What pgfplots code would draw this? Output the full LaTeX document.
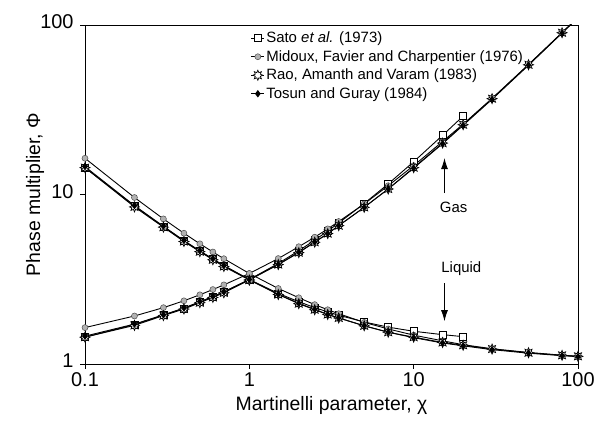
\documentclass[border=0pt]{standalone}
\usepackage{pgfplots}
\pgfplotsset{compat=1.18}
\usepackage{pgfplotstable}
\usepackage{fontspec}
\setmainfont{Liberation Sans}
\usetikzlibrary{plotmarks,arrows.meta}

% eight-pointed star, white inside
\pgfdeclareplotmark{sun}{%
  \pgfpathmoveto{\pgfpointpolar{90}{\pgfplotmarksize}}%
  \pgfpathlineto{\pgfpointpolar{112.5}{0.55\pgfplotmarksize}}%
  \pgfpathlineto{\pgfpointpolar{135}{\pgfplotmarksize}}%
  \pgfpathlineto{\pgfpointpolar{157.5}{0.55\pgfplotmarksize}}%
  \pgfpathlineto{\pgfpointpolar{180}{\pgfplotmarksize}}%
  \pgfpathlineto{\pgfpointpolar{202.5}{0.55\pgfplotmarksize}}%
  \pgfpathlineto{\pgfpointpolar{225}{\pgfplotmarksize}}%
  \pgfpathlineto{\pgfpointpolar{247.5}{0.55\pgfplotmarksize}}%
  \pgfpathlineto{\pgfpointpolar{270}{\pgfplotmarksize}}%
  \pgfpathlineto{\pgfpointpolar{292.5}{0.55\pgfplotmarksize}}%
  \pgfpathlineto{\pgfpointpolar{315}{\pgfplotmarksize}}%
  \pgfpathlineto{\pgfpointpolar{337.5}{0.55\pgfplotmarksize}}%
  \pgfpathlineto{\pgfpointpolar{0}{\pgfplotmarksize}}%
  \pgfpathlineto{\pgfpointpolar{22.5}{0.55\pgfplotmarksize}}%
  \pgfpathlineto{\pgfpointpolar{45}{\pgfplotmarksize}}%
  \pgfpathlineto{\pgfpointpolar{67.5}{0.55\pgfplotmarksize}}%
  \pgfpathclose
  \pgfusepathqfillstroke
}

% X, liquid and gas multipliers read off the reference
\pgfplotstableread{
X    L      G
0.1  14.4   1.44
0.2  8.57   1.71
0.3  6.45   1.94
0.4  5.33   2.13
0.5  4.63   2.32
0.6  4.16   2.50
0.7  3.81   2.67
1    3.15   3.15
1.5  2.61   3.92
2    2.33   4.66
2.5  2.15   5.38
3    2.03   6.09
3.5  1.94   6.79
5    1.77   8.85
7    1.65   11.55
10   1.56   15.6
15   1.49   22.35
20   1.45   29.0
}\sato

\pgfplotstableread{
X    L      G
0.1  16.36  1.64
0.2  9.60   1.92
0.3  7.18   2.15
0.4  5.91   2.36
0.5  5.12   2.56
0.6  4.58   2.75
0.7  4.18   2.93
1    3.42   3.42
1.5  2.79   4.19
2    2.46   4.92
2.5  2.24   5.60
3    2.09   6.27
3.5  1.98   6.93
5    1.76   8.80
7    1.61   11.27
10   1.48   14.8
15   1.37   20.55
20   1.30   26.0
30   1.23   36.9
50   1.17   58.5
80   1.127  90.2
100  1.11   111
}\midoux

\pgfplotstableread{
X    L      G
0.1  14.4   1.44
0.2  8.45   1.69
0.3  6.42   1.93
0.4  5.28   2.11
0.5  4.60   2.30
0.6  4.12   2.47
0.7  3.76   2.63
1    3.13   3.13
1.5  2.57   3.86
2    2.27   4.54
2.5  2.09   5.23
3    1.96   5.88
3.5  1.87   6.55
5    1.68   8.40
7    1.54   10.78
10   1.44   14.4
15   1.34   20.1
20   1.29   25.8
30   1.225  36.75
50   1.165  58.25
80   1.125  90.0
100  1.11   111
}\rao

\pgfplotstableread{
X    L      G
0.1  14.6   1.46
0.2  8.60   1.72
0.3  6.50   1.95
0.4  5.35   2.14
0.5  4.65   2.33
0.6  4.17   2.50
0.7  3.80   2.66
1    3.15   3.15
1.5  2.58   3.87
2    2.28   4.56
2.5  2.10   5.25
3    1.96   5.88
3.5  1.87   6.55
5    1.68   8.40
7    1.54   10.78
10   1.43   14.3
15   1.33   19.95
20   1.28   25.6
30   1.215  36.45
50   1.158  57.9
80   1.12   89.6
100  1.105  110.5
}\tosun

\begin{document}
\begin{tikzpicture}
\path[use as bounding box] (-85bp,-62bp) rectangle (510bp,364bp);
\begin{axis}[
  scale only axis,
  width=493bp,
  height=339bp,
  xmode=log,
  ymode=log,
  xmin=0.1, xmax=100,
  ymin=1, ymax=100,
  xtick={0.1,1,10,100},
  xticklabels={0.1,1,10,100},
  ytick={1,10,100},
  yticklabels={1,10,100},
  xminorticks=false,
  yminorticks=false,
  tick pos=left,
  tick align=outside,
  major tick length=5bp,
  axis line style={line width=0.8pt},
  tick style={line width=0.8pt, black},
  /pgf/number format/assume math mode=true,
  tick label style={font=\fontsize{20}{24}\selectfont},
  yticklabel style={xshift=-3bp, yshift=3bp},
  xlabel={Martinelli parameter, χ},
  ylabel={Phase multiplier, Φ},
  label style={font=\fontsize{19.5}{23}\selectfont},
  xlabel style={at={(axis description cs:0.5,-0.121)}, anchor=center},
  ylabel style={at={(axis description cs:-0.101,0.5)}, anchor=center},
  legend style={
    at={(0.330,0.99)},
    anchor=north west,
    draw=none,
    fill=none,
    font=\fontsize{15}{18}\selectfont,
    row sep=3.2pt,
    nodes={inner sep=1.5pt}
  },
  legend cell align=left,
  legend image code/.code={
    \draw[mark repeat=2,mark phase=2] plot coordinates {(0cm,0cm) (0.23cm,0cm) (0.46cm,0cm)};
  },
  every axis plot/.append style={black, line width=0.9pt},
]
% liquid curves (with legend)
\addplot[mark=square*, mark size=3.5bp, mark options={fill=white, line width=0.6pt}]
  table[x=X, y=L] {\sato};
\addlegendentry{Sato \textit{et al.} (1973)}
\addplot[mark=*, mark size=3bp, mark options={fill=gray!60, draw=black!70, line width=0.5pt}]
  table[x=X, y=L] {\midoux};
\addlegendentry{Midoux, Favier and Charpentier (1976)}
\addplot[mark=sun, mark size=5bp, mark options={fill=white, line width=0.7pt}]
  table[x=X, y=L] {\rao};
\addlegendentry{Rao, Amanth and Varam (1983)}
\addplot[mark=diamond*, mark size=3bp, mark options={fill=black}]
  table[x=X, y=L] {\tosun};
\addlegendentry{Tosun and Guray (1984)}

% gas curves
\addplot[forget plot, mark=square*, mark size=3.5bp, mark options={fill=white, line width=0.6pt}]
  table[x=X, y=G] {\sato};
\addplot[forget plot] table[x=X, y=G] {\midoux};
\addplot[forget plot, only marks, skip coords between index={21}{22}, mark=*, mark size=3bp, mark options={fill=gray!60, draw=black!70, line width=0.5pt}]
  table[x=X, y=G] {\midoux};
\addplot[forget plot] table[x=X, y=G] {\rao};
\addplot[forget plot, only marks, skip coords between index={21}{22}, mark=sun, mark size=5bp, mark options={fill=white, line width=0.7pt}]
  table[x=X, y=G] {\rao};
\addplot[forget plot] table[x=X, y=G] {\tosun};
\addplot[forget plot, only marks, skip coords between index={21}{22}, mark=diamond*, mark size=3bp, mark options={fill=black}]
  table[x=X, y=G] {\tosun};

% annotations
\draw[-{Latex[length=11bp,width=7bp]}, line width=0.9pt] (axis cs:15.4,10.2) -- (axis cs:15.4,16.4);
\node[font=\fontsize{15}{18}\selectfont] at (axis cs:17.5,8.4) {Gas};
\draw[-{Latex[length=11bp,width=7bp]}, line width=0.9pt] (axis cs:15.4,3.0) -- (axis cs:15.4,1.79);
\node[font=\fontsize{15}{18}\selectfont] at (axis cs:19.5,3.63) {Liquid};
\end{axis}
\end{tikzpicture}
\end{document}
